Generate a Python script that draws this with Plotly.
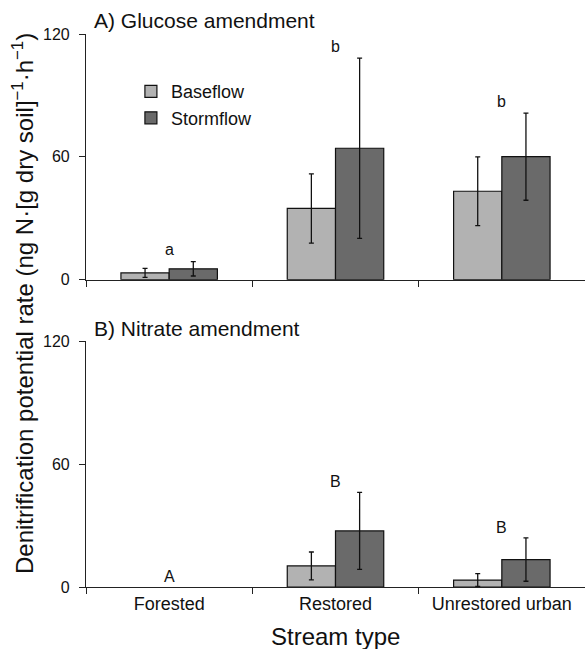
import plotly.graph_objects as go

categories = ["Forested", "Restored", "Unrestored urban"]

# Panel A: glucose amendment
glu_base = [3.3, 34.8, 43.2]
glu_base_err = [2.2, 16.9, 16.8]
glu_storm = [5.3, 64.2, 60.1]
glu_storm_err = [3.5, 44.0, 21.3]
glu_letters = ["a", "b", "b"]
glu_letter_y = [14.7, 113.7, 86.8]

# Panel B: nitrate amendment
nit_base = [None, 10.3, 3.4]
nit_base_err = [0, 6.8, 3.1]
nit_storm = [None, 27.4, 13.4]
nit_storm_err = [0, 18.8, 10.6]
nit_letters = ["A", "B", "B"]
nit_letter_y = [4.9, 51.4, 28.9]

y_ticks = [0, 60, 120]

FONT = "Liberation Sans, Arial, Helvetica, sans-serif"
BASE_COLOR = "#b2b2b2"
STORM_COLOR = "#6a6a6a"

fig = go.Figure()

def add_bars(vals, errs, name, color, xa, ya, show):
    fig.add_trace(go.Bar(
        x=categories, y=vals, name=name,
        marker=dict(color=color, line=dict(color="#111", width=1.2)),
        error_y=dict(type="data", array=errs, visible=True, color="#111", thickness=1.3, width=2.5),
        xaxis=xa, yaxis=ya, showlegend=show,
    ))

add_bars(glu_base, glu_base_err, "Baseflow", BASE_COLOR, "x", "y", True)
add_bars(glu_storm, glu_storm_err, "Stormflow", STORM_COLOR, "x", "y", True)
add_bars(nit_base, nit_base_err, "Baseflow", BASE_COLOR, "x2", "y2", False)
add_bars(nit_storm, nit_storm_err, "Stormflow", STORM_COLOR, "x2", "y2", False)

annotations = []
for c, t, yv in zip(categories, glu_letters, glu_letter_y):
    annotations.append(dict(x=c, y=yv, xref="x", yref="y", text=t, showarrow=False,
                            font=dict(size=16, color="#111", family=FONT)))
for c, t, yv in zip(categories, nit_letters, nit_letter_y):
    annotations.append(dict(x=c, y=yv, xref="x2", yref="y2", text=t, showarrow=False,
                            font=dict(size=16, color="#111", family=FONT)))

annotations += [
    dict(x=0.013, y=1.024, xref="paper", yref="paper", text="A) Glucose amendment",
         showarrow=False, xanchor="left", yanchor="middle", font=dict(size=21, color="#111", family=FONT)),
    dict(x=0.013, y=0.4676, xref="paper", yref="paper", text="B) Nitrate amendment",
         showarrow=False, xanchor="left", yanchor="middle", font=dict(size=21, color="#111", family=FONT)),
    dict(x=-0.126, y=0.512, xref="paper", yref="paper",
         text="Denitrification potential rate (ng N·[g dry soil]<sup>−1</sup>·h<sup>−1</sup>)",
         showarrow=False, textangle=-90, xanchor="center", yanchor="middle",
         font=dict(size=24, color="#111", family=FONT)),
    dict(x=0.5, y=-0.0899, xref="paper", yref="paper", text="Stream type",
         showarrow=False, xanchor="center", yanchor="middle", font=dict(size=24, color="#111", family=FONT)),
]

xaxis_common = dict(
    type="category", showline=True, linecolor="#222", linewidth=1.2,
    ticks="outside", tickson="boundaries", ticklen=6, tickcolor="#222", tickwidth=1.2,
    showgrid=False, zeroline=False, fixedrange=True,
)
yaxis_common = dict(
    range=[0, 120], tickvals=y_ticks, ticktext=[str(v) for v in y_ticks],
    showline=True, linecolor="#222", linewidth=1.2, ticks="outside", ticklen=6,
    tickcolor="#222", tickwidth=1.2, showgrid=False, zeroline=False,
    ticklabelstandoff=6,
    tickfont=dict(size=16, color="#111", family=FONT),
)

fig.update_layout(
    width=585, height=649,
    margin=dict(l=86, r=0, t=34, b=62),
    paper_bgcolor="white", plot_bgcolor="white",
    barmode="group", bargap=0.42, bargroupgap=0,
    font=dict(family=FONT, color="#111"),
    xaxis=dict(domain=[0, 1], anchor="y", showticklabels=False, **xaxis_common),
    yaxis=dict(domain=[0.5557, 1], anchor="x", **yaxis_common),
    xaxis2=dict(domain=[0, 1], anchor="y2", showticklabels=True,
                tickfont=dict(size=18, color="#111", family=FONT), **xaxis_common),
    yaxis2=dict(domain=[0, 0.4441], anchor="x2", **yaxis_common),
    legend=dict(x=0.09, y=0.929, xanchor="left", yanchor="top",
                font=dict(size=18, color="#111", family=FONT),
                bgcolor="rgba(0,0,0,0)", traceorder="normal"),
    annotations=annotations,
)

fig.write_html("out.html")
